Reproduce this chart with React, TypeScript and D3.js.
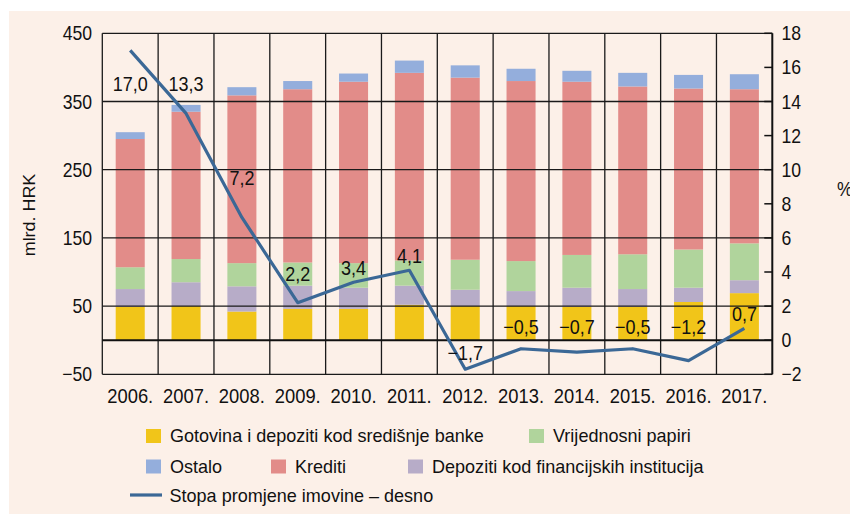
import React from "react";
import * as d3 from "d3";

const years = ["2006.", "2007.", "2008.", "2009.", "2010.", "2011.", "2012.", "2013.", "2014.", "2015.", "2016.", "2017."];
const gotovina = [49, 50, 42, 46, 46, 52, 50, 50, 49, 49, 56, 69];
const depoziti = [26, 35, 37, 34, 31, 28, 24, 22, 28, 26, 21, 19];
const vrijednosni = [32, 34, 34, 34, 36, 37, 44, 44, 48, 51, 56, 54];
const krediti = [188, 216, 246, 254, 266, 275, 267, 264, 254, 246, 236, 226];
const ostalo = [10, 10, 12, 12, 12, 18, 18, 18, 16, 20, 20, 22];
const stopa = [17.0, 13.3, 7.2, 2.2, 3.4, 4.1, -1.7, -0.5, -0.7, -0.5, -1.2, 0.7];
const stopaLabelAt = [14.6, 14.6, 9.1, 3.45, 3.85, 4.55, -1.15, 0.38, 0.38, 0.38, 0.38, 1.13];
const leftTicks = [-50, 50, 150, 250, 350, 450];
const rightTicks = [-2, 0, 2, 4, 6, 8, 10, 12, 14, 16, 18];

const seriesKeys = ["gotovina", "depoziti", "vrijednosni", "krediti", "ostalo"];
const seriesData: Record<string, number[]> = { gotovina, depoziti, vrijednosni, krediti, ostalo };
const colors: Record<string, string> = {
  gotovina: "#F1C519",
  depoziti: "#B7ACC8",
  vrijednosni: "#B0D49C",
  krediti: "#E28C89",
  ostalo: "#94AEDC",
};
const lineColor = "#3B6896";
const font = "'Liberation Sans', Arial, sans-serif";

function NText(props: {
  x: number;
  y: number;
  sx: number;
  size: number;
  anchor?: string;
  rotate?: number;
  children: React.ReactNode;
}) {
  const { x, y, sx, size, anchor = "start", rotate = 0, children } = props;
  return (
    <text
      transform={`translate(${x},${y}) rotate(${rotate}) scale(${sx},1)`}
      fontSize={size}
      textAnchor={anchor}
      fill="#111"
    >
      {children}
    </text>
  );
}

export default function App() {
  const W = 850, H = 514;
  const left = 102.3, right = 772.3, top = 33.3, bottom = 374.3;
  const x = d3.scaleBand<string>().domain(years).range([left, right]).paddingInner(0.48).paddingOuter(0.24);
  const band = d3.scaleBand<string>().domain(years).range([left, right]);
  const y = d3.scaleLinear().domain([-50, 450]).range([bottom, top]);
  const y2 = d3.scaleLinear().domain([-2, 18]).range([bottom, top]);
  const cx = (yr: string) => (band(yr) as number) + band.bandwidth() / 2;

  const rows = years.map((yr, i) => {
    const r: any = { year: yr };
    seriesKeys.forEach((k) => (r[k] = seriesData[k][i]));
    return r;
  });
  const stacked = d3.stack<any>().keys(seriesKeys)(rows);

  const line = d3
    .line<number>()
    .x((_, i) => cx(years[i]))
    .y((d) => y2(d));

  const fmt = (v: number) => (v < 0 ? "\u2212" : "") + Math.abs(v).toFixed(1).replace(".", ",");
  const fmtTick = (t: number) => (t < 0 ? "\u2212" + Math.abs(t) : String(t));

  const legendRows = [
    [
      { key: "gotovina", label: "Gotovina i depoziti kod središnje banke", x: 146 },
      { key: "vrijednosni", label: "Vrijednosni papiri", x: 529 },
    ],
    [
      { key: "ostalo", label: "Ostalo", x: 146 },
      { key: "krediti", label: "Krediti", x: 271 },
      { key: "depoziti", label: "Depoziti kod financijskih institucija", x: 408 },
    ],
  ];

  return (
    <svg width={W} height={H} style={{ display: "block", position: "absolute", left: 0, top: 0 }} fontFamily={font}>
      <rect x={0} y={0} width={W} height={H} fill="#ffffff" />
      <rect x={9} y={11} width={W - 9} height={H - 11} fill="#FCF0E8" />
      {stacked.map((s) => (
        <g key={s.key} fill={colors[s.key]}>
          {s.map((d, i) => (
            <rect key={i} x={x(years[i])} width={x.bandwidth()} y={y(d[1])} height={y(d[0]) - y(d[1])} />
          ))}
        </g>
      ))}
      <g stroke="#1a1a1a" strokeWidth={1.3}>
        {leftTicks.map((t) => (
          <line key={t} x1={left} x2={right} y1={y(t)} y2={y(t)} />
        ))}
        {years.map((yr) => (
          <line key={yr} x1={band(yr)} x2={band(yr)} y1={top} y2={bottom} />
        ))}
      </g>
      <line x1={left} x2={right} y1={y(0)} y2={y(0)} stroke="#111" strokeWidth={2} />
      <line x1={right} x2={right} y1={top} y2={bottom} stroke="#111" strokeWidth={2} />
      <g stroke="#111" strokeWidth={1.5}>
        {rightTicks.map((t) => (
          <line key={t} x1={right - 8} x2={right} y1={y2(t)} y2={y2(t)} />
        ))}
      </g>
      {leftTicks.map((t) => (
        <NText key={t} x={92} y={y(t) + 7} sx={0.88} size={20} anchor="end">
          {fmtTick(t)}
        </NText>
      ))}
      {rightTicks.map((t) => (
        <NText key={t} x={781.5} y={y2(t) + 7} sx={0.88} size={20}>
          {fmtTick(t)}
        </NText>
      ))}
      {years.map((yr) => (
        <NText key={yr} x={cx(yr)} y={403} sx={0.92} size={20} anchor="middle">
          {yr}
        </NText>
      ))}
      <NText x={35} y={215} sx={1.12} size={16} anchor="middle" rotate={-90}>
        mlrd. HRK
      </NText>
      <NText x={837} y={196} sx={0.88} size={20}>
        %
      </NText>
      <path d={line(stopa) as string} fill="none" stroke={lineColor} strokeWidth={3.2} strokeLinejoin="round" />
      {stopa.map((v, i) => (
        <NText key={i} x={cx(years[i])} y={y2(stopaLabelAt[i])} sx={0.9} size={20} anchor="middle">
          {fmt(v)}
        </NText>
      ))}
      {legendRows.map((row, ri) =>
        row.map((it) => (
          <g key={it.key}>
            <rect x={it.x} y={429 + ri * 30.5} width={15} height={14} fill={colors[it.key]} />
            <NText x={it.x + 24} y={442 + ri * 31} sx={0.95} size={19}>
              {it.label}
            </NText>
          </g>
        ))
      )}
      <line x1={130} x2={162} y1={495} y2={495} stroke={lineColor} strokeWidth={3.2} />
      <NText x={169.5} y={502} sx={0.95} size={19}>
        Stopa promjene imovine – desno
      </NText>
    </svg>
  );
}
